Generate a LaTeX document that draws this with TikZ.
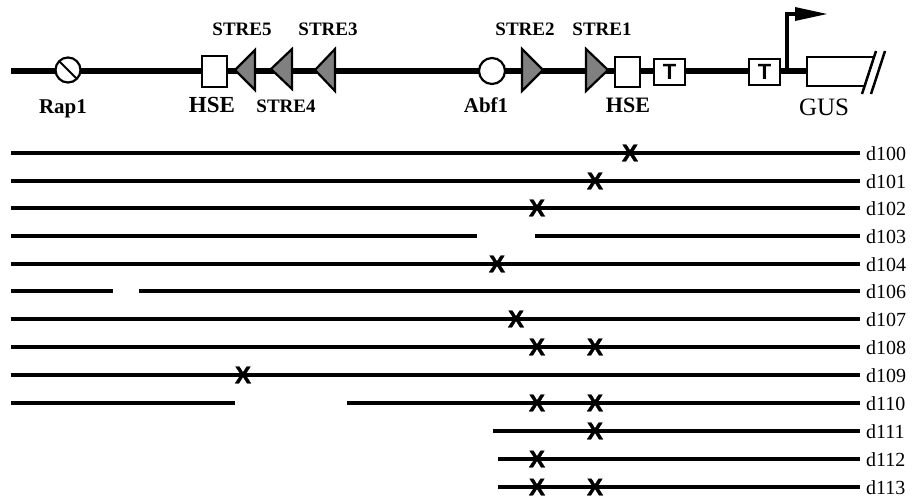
\documentclass[tikz,border=0pt]{standalone}
\usepackage{fontspec}
\setmainfont{Liberation Serif}
\newfontfamily\sansf{Liberation Sans}
\newfontfamily\mutfont[FakeBold=1.6]{Liberation Sans}
\begin{document}
\begin{tikzpicture}[x=1pt,y=-1pt,
  dna/.style={line width=6pt},
  del/.style={line width=4pt},
  site/.style={circle,draw,line width=2.2pt,fill=white,minimum size=25pt,inner sep=0pt},
  hse/.style={rectangle,draw,line width=1.6pt,fill=white,minimum width=25pt,minimum height=31pt,inner sep=0pt},
  tbox/.style={rectangle,draw,line width=1.6pt,fill=white,minimum width=31pt,minimum height=26pt,inner sep=0pt,font=\sansf\bfseries\fontsize{22}{22}\selectfont},
  stre/.style={draw,line width=2.2pt,fill=black!50,line join=miter},
  lbl/.style={anchor=base,inner sep=0pt,font=\bfseries\fontsize{19}{19}\selectfont},
  rowlbl/.style={anchor=base west,inner sep=0pt,font=\fontsize{20}{20}\selectfont},
  mut/.style={inner sep=0pt,font=\mutfont\bfseries\fontsize{24}{24}\selectfont},
]
\useasboundingbox (0,0) rectangle (917,501);

% ---- construct ----
\coordinate (ml) at (11,71);
\coordinate (gusl) at (807,71);
\draw[dna] (ml) -- (gusl);

\node[site] (rap1) at (68,70) {};
\draw[line width=2pt,shorten <=1pt,shorten >=1pt] (rap1.north west) -- (rap1.south east);

\node[hse] (hse1) at (214.5,71.5) {};
\draw[stre] (255,50) -- (235,70) -- (255,90) -- cycle;
\draw[stre] (292,49) -- (271,69) -- (292,89) -- cycle;
\draw[stre] (335,49) -- (315,70) -- (335,91) -- cycle;

\node[site,minimum size=26pt] (abf1) at (492,71) {};
\draw[stre] (522,49) -- (543,70) -- (522,91) -- cycle;
\draw[stre] (586,49) -- (608,70) -- (586,91) -- cycle;
\node[hse,minimum height=30pt] (hse2) at (627.5,72) {};
\node[tbox] (t1) at (669.5,72) {T};
\node[tbox] (t2) at (764.5,72) {T};

\coordinate (tss) at (787,71);
\coordinate (tsstop) at (787,14);
\coordinate (flag) at (797,14);
\draw[line width=3.5pt] (tss) -- (tsstop) -- (flag);
\fill (795,7) -- (827,14) -- (795,21) -- cycle;

\draw[line width=1.6pt,fill=white] (807,57) -- (874,57) -- (864.6,86) -- (807,86) -- cycle;
\draw[line width=2.5pt] (876,51) -- (862,94);
\draw[line width=2.5pt] (885,51) -- (871,94);

% ---- labels ----
\node[lbl,font=\bfseries\fontsize{21}{21}\selectfont] (lrap) at (63,113) {Rap1};
\node[lbl,font=\bfseries\fontsize{23}{23}\selectfont] (lhse1) at (212,112) {HSE};
\node[lbl] (ls5) at (242,35) {STRE5};
\node[lbl] (ls3) at (328,35) {STRE3};
\node[lbl] (ls4) at (286,112) {STRE4};
\node[lbl,font=\bfseries\fontsize{21}{21}\selectfont] (labf) at (486,112) {Abf1};
\node[lbl] (ls2) at (525,35) {STRE2};
\node[lbl] (ls1) at (602,35) {STRE1};
\node[lbl,font=\bfseries\fontsize{22}{22}\selectfont] (lhse2) at (628,112) {HSE};
\node[anchor=base,inner sep=0pt,font=\fontsize{25}{25}\selectfont] (lgus) at (824,115) {GUS};

% ---- deletion rows ----
\foreach \n/\y/\a/\b/\c/\d in {
  100/153/11/860/0/0,
  101/181/11/860/0/0,
  102/208/11/860/0/0,
  103/236/11/477/535/860,
  104/264/11/860/0/0,
  106/291/11/113/139/860,
  107/319/11/860/0/0,
  108/347/11/860/0/0,
  109/375/11/860/0/0,
  110/403/11/235/347/860,
  111/431/493/860/0/0,
  112/459/498/860/0/0,
  113/487/498/860/0/0}{
  \coordinate (s\n) at (\a,\y);
  \coordinate (e\n) at (\b,\y);
  \draw[del] (s\n) -- (e\n);
  \ifnum\c>0
    \coordinate (s\n b) at (\c,\y);
    \coordinate (e\n b) at (\d,\y);
    \draw[del] (s\n b) -- (e\n b);
  \fi
  \node[rowlbl] (l\n) at (866,\y+7) {d\n};
}

\foreach \x/\y [count=\i] in {630/153, 595/181, 537/208, 497/264, 516/319,
  537/347, 595/347, 243/375, 537/403, 595/403, 595/431, 537/459, 537/487, 595/487}{
  \node[mut] (x\i) at (\x,\y) {X};
}
\end{tikzpicture}
\end{document}
